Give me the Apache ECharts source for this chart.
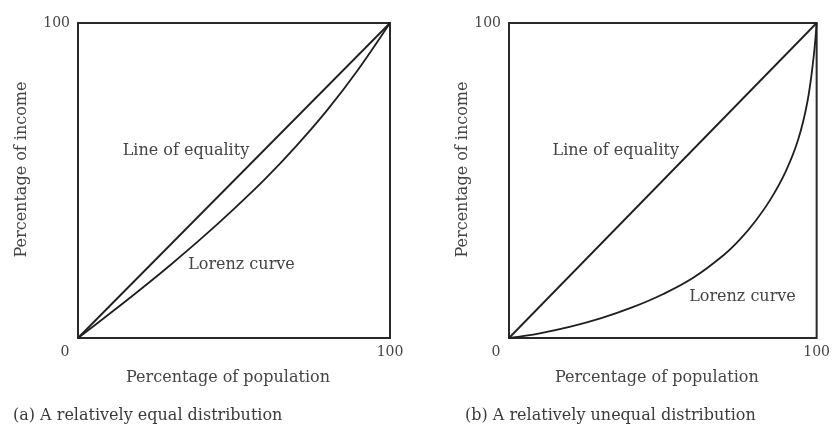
<!DOCTYPE html>
<html><head><meta charset="utf-8">
<script src="https://cdn.jsdelivr.net/npm/echarts@6.0.0/dist/echarts.min.js"></script>
<style>html,body{margin:0;padding:0;background:#fff}#c{width:833px;height:425px}</style>
</head><body><div id="c"></div>
<script>
// ---- data ----
const equalityP = [0, 100];
const equalityL = [0, 100];
const lorenzEqualP = [0, 10, 20, 30, 40, 50, 60, 70, 80, 90, 100];
const lorenzEqualL = [0, 7.6, 15.4, 23.5, 32, 41, 50.5, 61, 72.5, 85.5, 100];
const lorenzUnequalP = [0, 10, 20, 30, 40, 50, 60, 70, 75, 80, 85, 90, 94, 97, 99, 100];
const lorenzUnequalL = [0, 1.5, 3.6, 6.3, 9.7, 13.9, 19.2, 26.5, 31.2, 37, 44, 53, 63, 75, 89, 100];
const axisMin = 0, axisMax = 100;
const xName = 'Percentage of population';
const yName = 'Percentage of income';
const captions = ['(a) A relatively equal distribution', '(b) A relatively unequal distribution'];
const noteEquality = 'Line of equality';
const noteLorenz = 'Lorenz curve';

const pairs = (xs, ys) => xs.map((x, i) => [x, ys[i]]);
const FONT = 'DejaVu Serif';
const TXT = '#444';
const LINE = '#1e1e1e';

function xAxis(gridIndex) {
  return {
    type: 'value', gridIndex, min: axisMin, max: axisMax, interval: axisMax - axisMin,
    axisLine: {show: false}, axisTick: {show: false}, splitLine: {show: false},
    axisLabel: {
      margin: 7, color: TXT, fontFamily: FONT, fontSize: 14,
      formatter: v => v === axisMin ? '{z|' + v + '}' : '{h|' + v + '}',
      rich: {z: {padding: [0, 26, 0, 0], color: TXT, fontFamily: FONT, fontSize: 14},
             h: {color: TXT, fontFamily: FONT, fontSize: 14}}
    },
    name: xName, nameLocation: 'middle', nameGap: 32,
    nameTextStyle: {color: TXT, fontFamily: FONT, fontSize: 16, padding: [0, 12, 0, 0]}
  };
}
function yAxis(gridIndex, gap) {
  return {
    type: 'value', gridIndex, min: axisMin, max: axisMax, interval: axisMax - axisMin,
    axisLine: {show: false}, axisTick: {show: false}, splitLine: {show: false},
    axisLabel: {margin: 8, color: TXT, fontFamily: FONT, fontSize: 14,
      formatter: v => v === axisMax ? String(v) : ''},
    name: yName, nameLocation: 'middle', nameGap: gap,
    nameTextStyle: {color: TXT, fontFamily: FONT, fontSize: 16, padding: [0, 0, 0, 22]}
  };
}
function note(text, coord) {
  return {coord, value: text, symbol: 'circle', symbolSize: 0,
    label: {show: true, position: 'inside', formatter: text, color: TXT, fontFamily: FONT, fontSize: 16}};
}
function lineSeries(idx, data, smooth, notes) {
  return {
    type: 'line', xAxisIndex: idx, yAxisIndex: idx, data, symbol: 'none', showSymbol: false,
    smooth, lineStyle: {color: LINE, width: 1.8}, silent: true,
    markPoint: notes ? {silent: true, data: notes} : undefined
  };
}

const chart = echarts.init(document.getElementById('c'), null, {renderer: 'canvas'});
chart.setOption({
  animation: false,
  backgroundColor: '#fff',
  title: [
    {text: captions[0], left: 13, top: 408, padding: 0,
     textStyle: {color: '#3a3a3a', fontFamily: FONT, fontSize: 16, fontWeight: 'normal'}},
    {text: captions[1], left: 465, top: 408, padding: 0,
     textStyle: {color: '#3a3a3a', fontFamily: FONT, fontSize: 16, fontWeight: 'normal'}}
  ],
  grid: [
    {left: 78, top: 23, width: 312, height: 315, show: true, borderColor: '#2a2a2a', borderWidth: 2},
    {left: 509, top: 23, width: 313, height: 315, show: true, borderColor: '#2a2a2a', borderWidth: 2}
  ],
  xAxis: [xAxis(0), xAxis(1)],
  yAxis: [yAxis(0, 48), yAxis(1, 35)],
  series: [
    lineSeries(0, pairs(equalityP, equalityL), false, [note(noteEquality, [34.6, 59.4])]),
    lineSeries(0, pairs(lorenzEqualP, lorenzEqualL), 0.3, [note(noteLorenz, [52.4, 23.2])]),
    lineSeries(1, pairs(equalityP, equalityL), false, [note(noteEquality, [34.7, 59.4])]),
    lineSeries(1, pairs(lorenzUnequalP, lorenzUnequalL), 0.4, [note(noteLorenz, [75.9, 13.0])])
  ]
});
</script>
</body></html>
